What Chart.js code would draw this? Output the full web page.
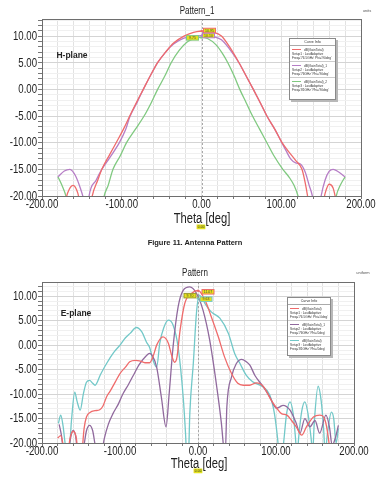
<!DOCTYPE html>
<html>
<head>
<meta charset="utf-8">
<script src="https://cdn.jsdelivr.net/npm/chart.js@4.4.1/dist/chart.umd.min.js"></script>
<style>
  body { margin: 0; background: #fff; width: 386px; height: 480px; overflow: hidden; position: relative;
         font-family: 'Liberation Sans', Arial, sans-serif; }
  canvas { position: absolute; left: 0; }
  .lbl { position: absolute; white-space: nowrap; transform: translate(-50%, -50%); color: #222; line-height: 1; }
  .narrow { transform: translate(-50%, -50%) scaleX(0.8); }
  .legend { position: absolute; background: #fff; border: 1px solid #8a8a8a; box-shadow: 2px 2px 0 #b8b8b8;
            font-size: 3.2px; line-height: 4px; color: #333; box-sizing: border-box; white-space: nowrap; overflow: hidden; }
  .legend .head { text-align: center; border-bottom: 1px solid #aaa; padding: 1px 0; font-size: 3.6px; }
  .legend .item { padding: 1.5px 2px; border-bottom: 1px solid #ccc; }
  .legend .item:last-child { border-bottom: none; }
  .legend .swatch { display: inline-block; width: 9px; height: 1.5px; vertical-align: middle; margin-right: 3px; }
  .xmark { position: absolute; background: #e4e21c; font-size: 3.5px; line-height: 5px; padding: 0 1px; color: #333;
           transform: translate(-50%, -50%); }
</style>
</head>
<body>
<canvas id="hChart" width="386" height="236" style="top:0"></canvas>
<canvas id="eChart" width="386" height="230" style="top:250px"></canvas>

<div class="lbl narrow" style="left:197px; top:11px; font-size:10px;">Pattern_1</div>
<div class="lbl" style="left:367px; top:11px; font-size:4px; color:#555;">units</div>
<div class="lbl" style="left:72px; top:55px; font-size:8.5px; font-weight:bold;">H-plane</div>
<div class="lbl narrow" style="left:202px; top:218px; font-size:14px;">Theta [deg]</div>
<div class="xmark" style="left:201px; top:227px;">0.00</div>

<div class="lbl" style="left:195px; top:243px; font-size:7.5px; font-weight:bold;">Figure 11. Antenna Pattern</div>

<div class="lbl narrow" style="left:195px; top:273px; font-size:10px;">Pattern</div>
<div class="lbl" style="left:363px; top:273px; font-size:4px; color:#555;">uniform</div>
<div class="lbl" style="left:76px; top:313px; font-size:8.5px; font-weight:bold;">E-plane</div>
<div class="lbl narrow" style="left:199px; top:463px; font-size:14px;">Theta [deg]</div>
<div class="xmark" style="left:198px; top:471px;">0.00</div>

<div class="legend" id="hLegend" style="left:289px; top:38px; width:47px; height:62px;"></div>
<div class="legend" id="eLegend" style="left:287px; top:297px; width:44px; height:59px;"></div>

<script>
// H-plane (Pattern_1)
const hRedTheta = [-172, -168, -161, -155, -150, -140, -137, -130, -125, -115, -107, -98, -90, -80, -73, -64, -55, -45, -35, -22, -10, 0, 6, 12, 25, 35, 47, 56, 65, 74, 82, 92, 101, 110, 118, 126, 130, 133, 136, 150, 155, 160, 165, 169, 172];
const hRedGain = [-22, -19.5, -18, -19.5, -23, -23, -20, -17, -15, -12.2, -10, -7.5, -5, -2, 0, 2.6, 5, 7, 8.7, 10, 10.7, 10.95, 11.0, 10.8, 10, 8.0, 5, 2.5, 0, -2.6, -5, -7.5, -10, -11.8, -13.3, -15, -17.5, -20, -23, -23, -19.5, -17.8, -18.5, -21, -23];

const hPurpleTheta = [-180, -172, -165, -158, -152, -148, -145, -143, -141, -132, -125, -115, -103, -95, -90, -80, -73, -64, -55, -45, -35, -22, -10, 0, 8, 15, 25, 35, 47, 56, 65, 74, 82, 92, 100, 106, 112, 118, 124, 130, 135, 139, 142, 147, 150, 155, 160, 165, 172, 180];
const hPurpleGain = [-16.4, -15.3, -15.0, -16.2, -18.5, -20.5, -23, -23, -20, -17, -15, -12.8, -10, -7.5, -5.2, -2.2, 0, 2.6, 5, 7, 8.5, 9.6, 10.0, 10.1, 10.1, 9.9, 9.3, 7.6, 5, 2.5, 0, -2.6, -5, -7.5, -9.8, -11.5, -13.1, -13.8, -14.0, -15.5, -18, -20, -23, -23, -20, -17, -15.4, -15.0, -15.5, -16.4];

const hGreenTheta = [-180, -175, -170, -166, -125, -122, -117, -111, -102, -94, -83, -72, -63, -55, -46, -38, -28, -18, -8, 0, 8, 18, 26, 33, 41, 48, 56, 64, 73, 82, 91, 102, 110, 116, 121, 125, 166, 169, 174, 180];
const hGreenGain = [-16.4, -18, -20, -23, -23, -20, -18, -15, -12.5, -10, -7.5, -5, -2.5, 0, 2.5, 5, 7.3, 8.9, 9.6, 9.75, 9.5, 8.4, 6.8, 5, 2.5, 0, -2.5, -5, -7.5, -10, -12.5, -15, -16.5, -18, -20, -23, -23, -20, -18, -16.4];

// E-plane (Pattern)
const eRedTheta = [-180, -176, -172, -168, -164, -160, -156, -153, -149, -146, -143, -138, -132, -126, -122, -117, -113, -106, -100, -93, -87.5, -80, -75, -68, -62, -57, -53, -45, -38, -34, -30, -27, -23, -17, -8, 0, 9, 17, 26, 34, 43, 51, 58, 66, 75, 84, 94, 101, 107, 114, 120, 126, 133, 139, 148, 156, 163, 167, 170];
const eRedGain = [-19, -18.5, -21, -23, -19, -17.6, -19, -23, -22, -17, -14.7, -13.7, -13.4, -13.2, -12.5, -10.5, -9.5, -7.5, -5.8, -4.5, -3.4, -3.1, -3.2, -3.6, -3.6, -2, 0, 1.7, 0.4, -2, -3.5, -2.5, 3, 8.5, 10.6, 11.2, 9.2, 5.8, 1.7, -2.4, -5.8, -7.8, -8.2, -8.2, -7.7, -8.5, -11.3, -12.9, -14, -14.3, -15.4, -16.7, -18.4, -16.7, -14.7, -14.3, -15.4, -18.8, -23];

const ePurpleTheta = [-178, -175, -172, -166, -162, -160, -157, -154, -147, -143, -139, -135, -131, -124, -120, -115, -109, -102, -96, -89, -83, -75, -66, -62, -58, -53, -47, -41, -37, -32, -25.5, -19, -10.5, -2, 6.5, 15, 24, 30, 33, 35, 37, 43, 49, 56, 62, 66.5, 73, 83.6, 92, 100.7, 105, 109, 118, 126, 130.7, 137, 143.5, 150, 156, 164, 168.5, 172, 176, 180];
const ePurpleGain = [-16.2, -18.5, -22, -21, -18, -17.4, -18.5, -22, -21, -17.5, -16.4, -17.5, -21, -22, -19, -16.2, -14, -12, -9.9, -8, -6.2, -3.9, -2.1, -1.7, -2.3, -4.5, -10.6, -16.7, -10, -0.4, 7.8, 11.2, 11.9, 10.6, 7.1, 1.0, -8.5, -16, -21, -22, -12.6, -6.5, -3.8, -2.9, -3.4, -4.1, -6.2, -8.5, -10.6, -12.9, -12.6, -12.3, -13.3, -16, -18, -15, -16.7, -15.4, -18, -14.3, -16.7, -20.5, -19, -16.4];

const eCyanTheta = [-179, -176, -173, -170, -166, -162, -158, -155, -151, -147, -143, -139, -135, -132, -125, -117, -108, -100, -93, -87, -79, -72, -66, -62, -57.6, -53, -49, -44, -38, -32, -25.5, -19, -16, -14, -12, -10.5, -6, -2, 1.5, 5, 9, 17, 28, 39, 47, 54, 62, 70, 83, 92, 98, 102, 105, 109, 113.6, 118, 122, 125, 127, 129, 133, 137, 141, 145, 147, 149, 154, 158, 161, 163, 166, 171, 174, 177, 180];
const eCyanGain = [-16, -14.3, -16.5, -20.5, -23, -15, -9.6, -11.5, -13.3, -10, -7.6, -7.2, -7.8, -8.2, -6, -3.7, -1.5, 0, 1.5, 2.4, 3.6, 2.7, 0.6, -0.5, -3.1, -4.5, 0.4, 3.5, 5.1, 4.1, -0.4, -10.6, -18, -24, -22, -14, -3.7, 6.5, 10.2, 9.6, 8.5, 6.8, 5.5, 2.4, -1.7, -3.8, -6.2, -7.5, -8.5, -10.2, -14, -19, -24, -21, -14, -11.6, -14, -19, -23, -19, -13.5, -11.6, -14, -19, -22, -16, -8.4, -11.5, -17, -22, -18, -13.7, -15, -20, -17];

// marker values at Theta = 0 and their label texts
const hMarkerGain = [10.95, 10.1, 9.75];
const hMarkerText = ['10.95', '10.10', '9.75'];
const eMarkerGain = [11.1, 9.7, 9.6];
const eMarkerText = ['11.07', '9.70', '9.63'];

const xTickLabels = [-200, -100, 0, 100, 200];
const yTickLabels = [-20, -15, -10, -5, 0, 5, 10];

const RED = '#ef6b6b';
const H_PURPLE = '#b67dc6';
const GREEN = '#80c980';
const E_PURPLE = '#90699d';
const CYAN = '#72c8c8';

const toPoints = (th, g) => th.map((t, i) => ({ x: t, y: g[i] }));

// condensed tick labels, like the narrow font of the original plot
function drawTickLabels(chart) {
    const { ctx, scales: { x, y } } = chart;
    ctx.save();
    ctx.fillStyle = '#222';
    ctx.font = '12px "Liberation Sans", Arial, sans-serif';
    ctx.textBaseline = 'middle';
    ctx.textAlign = 'right';
    yTickLabels.forEach(v => {
        ctx.save();
        ctx.translate(x.left - 5, y.getPixelForValue(v) + 0.5);
        ctx.scale(0.8, 1);
        ctx.fillText(v.toFixed(2), 0, 0);
        ctx.restore();
    });
    ctx.textAlign = 'center';
    xTickLabels.forEach(v => {
        ctx.save();
        ctx.translate(x.getPixelForValue(v), y.bottom + 9);
        ctx.scale(0.8, 1);
        ctx.fillText(v.toFixed(2), 0, 0);
        ctx.restore();
    });
    ctx.restore();
}

const framePlugin = {
    id: 'frame',
    beforeDatasetsDraw(chart) {
        const { ctx, chartArea: a, scales: { x } } = chart;
        const x0 = Math.round(x.getPixelForValue(0)) + 0.5;
        ctx.save();
        ctx.strokeStyle = '#a8a8a8';
        ctx.setLineDash([2, 2]);
        ctx.beginPath();
        ctx.moveTo(x0, a.top);
        ctx.lineTo(x0, a.bottom);
        ctx.stroke();
        ctx.restore();
    },
    afterDraw(chart, args, opts) {
        const { ctx, chartArea: a, scales: { x, y } } = chart;
        ctx.save();
        ctx.strokeStyle = '#6e6e6e';
        ctx.lineWidth = 1;
        ctx.strokeRect(Math.round(a.left) + 0.5, Math.round(a.top) + 0.5, Math.round(a.width), Math.round(a.height));
        // marker labels
        (opts.markers || []).forEach(m => {
            const px = x.getPixelForValue(0);
            const py = y.getPixelForValue(m.value);
            const w = 12, h = 4.5;
            const bx = px + m.dx - w / 2, by = py + m.dy - h / 2;
            ctx.fillStyle = '#e6e21a';
            ctx.strokeStyle = m.color;
            ctx.lineWidth = 1;
            ctx.fillRect(bx, by, w, h);
            ctx.strokeRect(bx, by, w, h);
            ctx.fillStyle = '#444';
            ctx.font = '3.5px Liberation Sans';
            ctx.textAlign = 'center';
            ctx.textBaseline = 'middle';
            ctx.fillText(m.text, bx + w / 2, by + h / 2 + 0.3);
            ctx.fillStyle = m.color;
            ctx.beginPath();
            ctx.moveTo(px, py - 1.5);
            ctx.lineTo(px + 1.5, py + 1);
            ctx.lineTo(px - 1.5, py + 1);
            ctx.closePath();
            ctx.fill();
        });
        ctx.restore();
        drawTickLabels(chart);
    }
};

function makeChart(id, datasets, opts) {
    return new Chart(document.getElementById(id), {
        type: 'line',
        data: { datasets },
        plugins: [framePlugin],
        options: {
            responsive: false,
            animation: false,
            devicePixelRatio: 1,
            layout: { padding: { top: opts.top, right: opts.right, left: 0, bottom: 0 } },
            elements: {
                point: { radius: 0 },
                line: { borderWidth: 1.3, cubicInterpolationMode: 'monotone' }
            },
            plugins: {
                legend: { display: false },
                tooltip: { enabled: false },
                frame: { markers: opts.markers }
            },
            scales: {
                x: {
                    type: 'linear',
                    min: -200,
                    max: 200,
                    afterFit: s => { s.height = opts.xHeight; },
                    ticks: { stepSize: 20, autoSkip: false, maxRotation: 0, display: false },
                    grid: { color: '#e2e2e2', tickLength: 3, tickColor: '#777' },
                    border: { color: '#6e6e6e' }
                },
                y: {
                    type: 'linear',
                    min: -20,
                    max: opts.yMax,
                    afterFit: s => { s.width = 42; },
                    ticks: { stepSize: 1, includeBounds: false, autoSkip: false, display: false },
                    grid: {
                        color: c => (c.tick && c.tick.value % 5 === 0) ? '#d4d4d4' : '#f0f0f0',
                        tickLength: 4,
                        tickColor: '#777'
                    },
                    border: { color: '#6e6e6e' }
                }
            }
        }
    });
}

makeChart('hChart', [
    { data: toPoints(hRedTheta, hRedGain), borderColor: RED },
    { data: toPoints(hPurpleTheta, hPurpleGain), borderColor: H_PURPLE },
    { data: toPoints(hGreenTheta, hGreenGain), borderColor: GREEN }
], {
    top: 19, right: 25, xHeight: 40, yMax: 13.2,
    markers: [
        { value: hMarkerGain[0], text: hMarkerText[0], color: RED, dx: 8, dy: -0.5 },
        { value: hMarkerGain[1], text: hMarkerText[1], color: H_PURPLE, dx: 7, dy: 0 },
        { value: hMarkerGain[2], text: hMarkerText[2], color: GREEN, dx: -9, dy: 0.5 }
    ]
});

makeChart('eChart', [
    { data: toPoints(eRedTheta, eRedGain), borderColor: RED },
    { data: toPoints(ePurpleTheta, ePurpleGain), borderColor: E_PURPLE },
    { data: toPoints(eCyanTheta, eCyanGain), borderColor: CYAN }
], {
    top: 32, right: 32, xHeight: 37, yMax: 12.9,
    markers: [
        { value: eMarkerGain[0], text: eMarkerText[0], color: RED, dx: 10, dy: 1 },
        { value: eMarkerGain[1], text: eMarkerText[1], color: '#9a9a30', dx: -8, dy: -2 },
        { value: eMarkerGain[2], text: eMarkerText[2], color: CYAN, dx: 8, dy: 1 }
    ]
});

// Curve Info legends
function fillLegend(id, entries) {
    const box = document.getElementById(id);
    let html = '<div class="head">Curve Info</div>';
    entries.forEach(e => {
        html += `<div class="item"><span class="swatch" style="background:${e.color}"></span>${e.name}<br>${e.setup} : LastAdaptive<br>${e.freq}</div>`;
    });
    box.innerHTML = html;
}

fillLegend('hLegend', [
    { color: RED, name: 'dB(GainTotal)', setup: 'Setup1', freq: "Freq='76.5GHz' Phi='90deg'" },
    { color: H_PURPLE, name: 'dB(GainTotal)_1', setup: 'Setup2', freq: "Freq='76GHz' Phi='90deg'" },
    { color: GREEN, name: 'dB(GainTotal)_2', setup: 'Setup3', freq: "Freq='81GHz' Phi='90deg'" }
]);

fillLegend('eLegend', [
    { color: RED, name: 'dB(GainTotal)', setup: 'Setup1', freq: "Freq='76.5GHz' Phi='0deg'" },
    { color: E_PURPLE, name: 'dB(GainTotal)_1', setup: 'Setup2', freq: "Freq='76GHz' Phi='0deg'" },
    { color: CYAN, name: 'dB(GainTotal)', setup: 'Setup3', freq: "Freq='81GHz' Phi='0deg'" }
]);
</script>
</body>
</html>
